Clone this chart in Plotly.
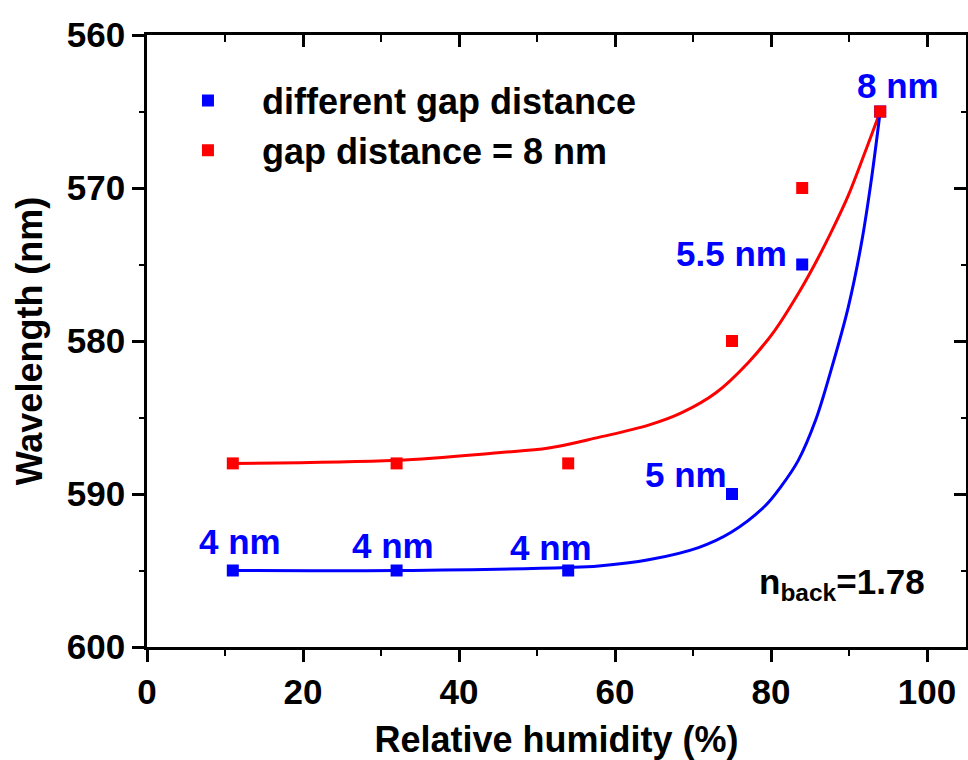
import plotly.graph_objects as go

# ---- data ----
humidity = [11, 32, 54, 75, 84, 94]
wl_gap_varied = [595, 595, 595, 590, 575, 565]      # blue squares
wl_gap_8nm = [588, 588, 588, 580, 570, 565]         # red squares
gap_labels = ["4 nm", "4 nm", "4 nm", "5 nm", "5.5 nm", "8 nm"]

# fitted curves
fit_blue_x = [11, 32, 54, 57.9, 64.3, 70.7, 74.9, 79.2, 81.3, 83.5, 85.7, 87.7, 89.9, 91.6, 92.8, 94]
fit_blue_y = [595.0, 595.0, 594.8, 594.7, 594.3, 593.5, 592.5, 590.8, 589.5, 587.8, 585.2, 581.9,
              577.8, 573.6, 569.7, 565.0]
fit_red_x = [11, 32, 45, 51.5, 57.9, 64.3, 68.5, 72.9, 77.1, 80.5, 83.5, 85.7, 87.7, 89.9, 92.1, 94]
fit_red_y = [588.0, 587.8, 587.3, 587.0, 586.3, 585.5, 584.7, 583.4, 581.4, 579.3, 576.9, 574.9,
             572.9, 570.5, 567.6, 565.0]

BLUE = "#0000FF"
RED = "#FF0000"
FONT = "Liberation Sans, Arial, sans-serif"

fig = go.Figure()

fig.add_trace(go.Scatter(x=fit_red_x, y=fit_red_y, mode="lines",
                         line=dict(color=RED, width=3, shape="spline", smoothing=1.0),
                         showlegend=False, hoverinfo="skip"))
fig.add_trace(go.Scatter(x=fit_blue_x, y=fit_blue_y, mode="lines",
                         line=dict(color=BLUE, width=3, shape="spline", smoothing=1.0),
                         showlegend=False, hoverinfo="skip"))
fig.add_trace(go.Scatter(x=humidity, y=wl_gap_varied, mode="markers",
                         marker=dict(symbol="square", size=12, color=BLUE),
                         name="different gap distance"))
fig.add_trace(go.Scatter(x=humidity, y=wl_gap_8nm, mode="markers",
                         marker=dict(symbol="square", size=12, color=RED),
                         name="gap distance = 8 nm"))
# invisible trace to activate the mirrored top/right axes
fig.add_trace(go.Scatter(x=humidity, y=wl_gap_8nm, mode="markers", xaxis="x2", yaxis="y2",
                         marker=dict(opacity=0), showlegend=False, hoverinfo="skip"))

# gap-distance labels, offset from their points in pixels
label_shift = [(7, 29), (-4, 25), (-17, 23), (-46, 20), (-71, 11), (18, 26)]
for xv, yv, txt, (dx, dy) in zip(humidity, wl_gap_varied, gap_labels, label_shift):
    fig.add_annotation(x=xv, y=yv, text=txt, showarrow=False, xshift=dx, yshift=dy,
                       font=dict(family=FONT, size=35, color=BLUE, weight="bold"))

fig.add_annotation(xref="paper", yref="paper", x=0.745, y=0.103, text="n<sub>back</sub>=1.78",
                   showarrow=False, xanchor="left", yanchor="middle",
                   font=dict(family=FONT, size=35, color="black", weight="bold"))

axis_font = dict(family=FONT, size=35, color="black", weight="bold")
fig.update_layout(
    width=968, height=760,
    margin=dict(l=147, r=2, t=35, b=113),
    paper_bgcolor="white", plot_bgcolor="white",
    font=dict(family=FONT, color="black"),
    xaxis=dict(range=[0, 105], dtick=20, tick0=0, showgrid=False, zeroline=False,
               showline=True, linecolor="black", linewidth=2.5,
               ticks="outside", ticklen=12, tickwidth=2.5, tickcolor="black",
               minor=dict(dtick=10, ticks="outside", ticklen=6, tickwidth=2, tickcolor="black"),
               tickfont=axis_font,
               title=dict(text="Relative humidity (%)", font=dict(family=FONT, size=36, weight="bold"),
                          standoff=18)),
    yaxis=dict(range=[600, 560], dtick=10, tick0=560, showgrid=False, zeroline=False,
               showline=True, linecolor="black", linewidth=2.5,
               ticks="outside", ticklen=12, tickwidth=2.5, tickcolor="black",
               minor=dict(dtick=5, ticks="outside", ticklen=5, tickwidth=2, tickcolor="black"),
               tickfont=axis_font,
               title=dict(text="Wavelength (nm)", font=dict(family=FONT, size=36, weight="bold"),
                          standoff=14)),
    xaxis2=dict(overlaying="x", side="top", matches="x", anchor="y2", range=[0, 105],
                dtick=20, tick0=0, showgrid=False, zeroline=False, showticklabels=False,
                showline=True, linecolor="black", linewidth=2.5,
                ticks="inside", ticklen=12, tickwidth=2.5, tickcolor="black",
                minor=dict(dtick=10, ticks="inside", ticklen=7, tickwidth=2, tickcolor="black")),
    yaxis2=dict(overlaying="y", side="right", matches="y", anchor="x2", range=[600, 560],
                dtick=10, tick0=560, showgrid=False, zeroline=False, showticklabels=False,
                showline=True, linecolor="black", linewidth=2.5,
                ticks="inside", ticklen=12, tickwidth=2.5, tickcolor="black",
                minor=dict(dtick=5, ticks="inside", ticklen=5, tickwidth=2, tickcolor="black")),
    legend=dict(x=0.0085, y=0.942, xanchor="left", yanchor="top", bgcolor="rgba(0,0,0,0)",
                font=dict(family=FONT, size=36, color="black", weight="bold"),
                itemwidth=98, tracegroupgap=0),
)

fig.write_html("out.html", config={"displayModeBar": False},
               post_script="document.body.style.margin='0';document.body.style.overflow='hidden';")
